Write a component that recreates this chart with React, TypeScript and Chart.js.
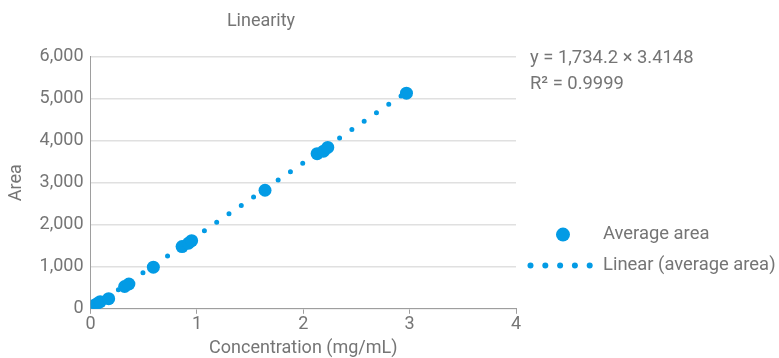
import React, { useEffect, useRef } from "react";
import { Chart, registerables } from "chart.js";

Chart.register(...registerables);

const concentration = [0.03, 0.06, 0.09, 0.17, 0.32, 0.36, 0.59, 0.86, 0.92, 0.95, 1.64, 2.13, 2.19, 2.23, 2.97];
const averageArea = [70, 120, 170, 240, 530, 590, 990, 1480, 1560, 1620, 2820, 3690, 3750, 3840, 5130];
const trendX = [0.03, 2.97];
const trendY = [55, 5154];
const xTicks = [0, 1, 2, 3, 4];
const yTicks = [0, 1000, 2000, 3000, 4000, 5000, 6000];
const equationLines = ["y = 1,734.2 × 3.4148", "R² = 0.9999"];
const legendLabels = ["Average area", "Linear (average area)"];

const BLUE = "#039BE5";
const TEXT = "#757575";
const FONT = "Roboto";

const overlayPlugin = {
  id: "overlay",
  afterDraw(chart: any) {
    const { ctx, chartArea } = chart;
    const left = chartArea.right + 14;
    ctx.save();
    ctx.font = `18.4px ${FONT}`;
    ctx.fillStyle = TEXT;
    ctx.textBaseline = "middle";
    ctx.textAlign = "left";
    ctx.fillText(equationLines[0], left, chartArea.top + 2);
    ctx.fillText(equationLines[1], left, chartArea.top + 28);
    // legend
    const y1 = chartArea.top + 178;
    const y2 = chartArea.top + 209;
    const textX = left + 73;
    ctx.fillStyle = BLUE;
    ctx.beginPath();
    ctx.arc(left + 33, y1, 7, 0, Math.PI * 2);
    ctx.fill();
    for (let i = 0; i < 5; i++) {
      ctx.beginPath();
      ctx.arc(left + 0.5 + i * 14.8, y2, 3, 0, Math.PI * 2);
      ctx.fill();
    }
    ctx.fillStyle = TEXT;
    ctx.fillText(legendLabels[0], textX, y1);
    ctx.fillText(legendLabels[1], textX, y2);
    ctx.restore();
  },
};

export default function App() {
  const ref = useRef<HTMLCanvasElement>(null);
  useEffect(() => {
    if (!ref.current) return;
    const chart = new Chart(ref.current, {
      type: "scatter",
      data: {
        datasets: [
          {
            label: legendLabels[0],
            data: concentration.map((x, i) => ({ x, y: averageArea[i] })),
            backgroundColor: BLUE,
            borderColor: BLUE,
            pointRadius: 6.5,
            pointHoverRadius: 6.5,
            borderWidth: 0,
          },
          {
            label: legendLabels[1],
            type: "line",
            data: trendX.map((x, i) => ({ x, y: trendY[i] })),
            borderColor: BLUE,
            borderWidth: 5,
            borderDash: [0, 14.9],
            borderCapStyle: "round",
            pointRadius: 0,
            fill: false,
          } as any,
        ],
      },
      options: {
        responsive: false,
        animation: false,
        layout: { padding: { left: 6, right: 263, top: 6, bottom: -1 } },
        plugins: {
          legend: { display: false },
          tooltip: { enabled: false },
          title: {
            display: true,
            text: "Linearity",
            color: TEXT,
            font: { family: FONT, size: 18, weight: "normal" },
            padding: { top: 5, bottom: 24 },
          },
        },
        scales: {
          x: {
            type: "linear",
            min: 0,
            max: 4,
            afterBuildTicks: (s: any) => {
              s.ticks = xTicks.map((v) => ({ value: v }));
            },
            ticks: { color: TEXT, font: { family: FONT, size: 18 }, padding: 0 },
            grid: { drawOnChartArea: false, drawTicks: true, tickLength: 5, color: "#9e9e9e" },
            border: { color: "#9e9e9e", width: 1 },
            title: {
              display: true,
              text: "Concentration (mg/mL)",
              color: TEXT,
              font: { family: FONT, size: 18 },
              padding: { top: 2, bottom: 0 },
            },
          },
          y: {
            type: "linear",
            min: 0,
            max: 6000,
            afterBuildTicks: (s: any) => {
              s.ticks = yTicks.map((v) => ({ value: v }));
            },
            ticks: {
              color: TEXT,
              font: { family: FONT, size: 18 },
              padding: 7,
              callback: (v: any) => Number(v).toLocaleString("en-US"),
            },
            grid: { color: "#e0e0e0", drawTicks: false, lineWidth: 1.5 },
            border: { color: "#9e9e9e", width: 1 },
            title: {
              display: true,
              text: "Area",
              color: TEXT,
              font: { family: FONT, size: 18 },
              padding: { top: 0, bottom: 5 },
            },
          },
        },
      },
      plugins: [overlayPlugin],
    });
    return () => chart.destroy();
  }, []);
  return (
    <div style={{ position: "fixed", left: 0, top: 0, width: 779, height: 358, background: "#fff" }}>
      <canvas ref={ref} width={779} height={358} style={{ display: "block" }} />
    </div>
  );
}
